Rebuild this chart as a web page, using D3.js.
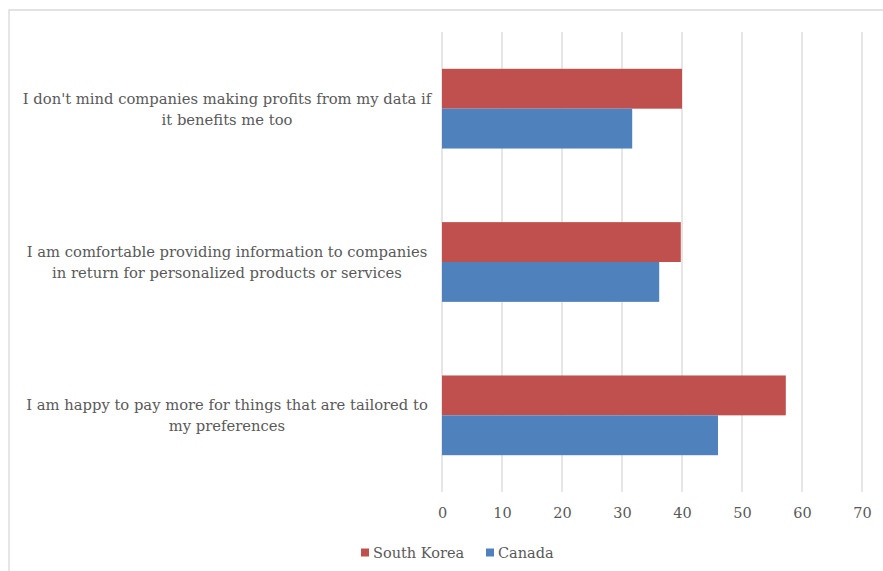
<!DOCTYPE html>
<html>
<head>
<meta charset="utf-8">
<script src="https://cdn.jsdelivr.net/npm/d3@7"></script>
<style>
  html, body { margin: 0; padding: 0; background: #fff; }
  svg { display: block; }
  text { font-family: "DejaVu Serif", "Liberation Serif", serif; fill: #595959; }
</style>
</head>
<body>
<svg id="chart" width="883" height="571"></svg>
<script>
// Survey statements (top to bottom) and the share agreeing, by country
const statements = [
  ["I don't mind companies making profits from my data if", "it benefits me too"],
  ["I am comfortable providing information to companies", "in return for personalized products or services"],
  ["I am happy to pay more for things that are tailored to", "my preferences"]
];
const seriesNames = ["South Korea", "Canada"];
const southKorea = [40.0, 39.8, 57.3];
const canada = [31.7, 36.2, 46.0];
const xTicks = [0, 10, 20, 30, 40, 50, 60, 70];
const colors = ["#C0504D", "#4F81BD"];

const svg = d3.select("#chart");
const margin = { top: 32, left: 442, right: 21, bottom: 79 };
const W = 883, H = 571;

// Outer chart frame (only top and left edges fall inside the view)
svg.append("path")
  .attr("d", `M9,${H} L9,10 L${W},10`)
  .attr("fill", "none").attr("stroke", "#d9d9d9").attr("stroke-width", 1.3);

const x = d3.scaleLinear().domain([0, 70]).range([margin.left, W - margin.right]);
const y = d3.scaleBand().domain(d3.range(statements.length))
  .range([margin.top, H - margin.bottom]).paddingInner(0.48).paddingOuter(0.24);
const ySub = d3.scaleBand().domain([0, 1]).range([0, y.bandwidth()]);

// Vertical gridlines
svg.append("g").selectAll("line").data(xTicks).join("line")
  .attr("x1", d => x(d)).attr("x2", d => x(d))
  .attr("y1", margin.top).attr("y2", H - margin.bottom)
  .attr("stroke", "#d9d9d9").attr("stroke-width", 1.3);

// Bars
const data = [southKorea, canada];
const groups = svg.append("g").selectAll("g").data(statements).join("g")
  .attr("transform", (d, i) => `translate(0,${y(i)})`);
groups.selectAll("rect")
  .data((d, i) => data.map((s, k) => ({ k, v: s[i] })))
  .join("rect")
  .attr("x", x(0))
  .attr("y", d => ySub(d.k))
  .attr("width", d => x(d.v) - x(0))
  .attr("height", ySub.bandwidth())
  .attr("fill", d => colors[d.k]);

// Category labels, two centred lines each
const labelG = svg.append("g");
statements.forEach((lines, i) => {
  const cy = y(i) + y.bandwidth() / 2;
  const t = labelG.append("text")
    .attr("x", 227).attr("y", cy - 10)
    .attr("text-anchor", "middle")
    .attr("font-size", 14.75);
  lines.forEach((ln, j) => {
    t.append("tspan").attr("x", 227).attr("dy", j === 0 ? "0.35em" : 21).text(ln);
  });
});

// X axis tick labels
const xAxis = d3.axisBottom(x).tickValues(xTicks).tickSize(0).tickPadding(0);
const axG = svg.append("g").attr("transform", `translate(0,${H - margin.bottom})`).call(xAxis);
axG.select(".domain").remove();
axG.selectAll("text")
  .attr("dy", null).attr("y", 21).attr("dominant-baseline", "central")
  .attr("font-size", 14.5).attr("font-family", null).attr("fill", "#595959");

// Legend
const legend = svg.append("g");
const legendX = [361, 486];
seriesNames.forEach((name, k) => {
  legend.append("rect").attr("x", legendX[k]).attr("y", 548.5).attr("width", 8).attr("height", 8)
    .attr("fill", colors[k]);
  legend.append("text").attr("x", legendX[k] + 12).attr("y", 552.5)
    .attr("dominant-baseline", "central").attr("font-size", 14.5).text(name);
});
</script>
</body>
</html>
